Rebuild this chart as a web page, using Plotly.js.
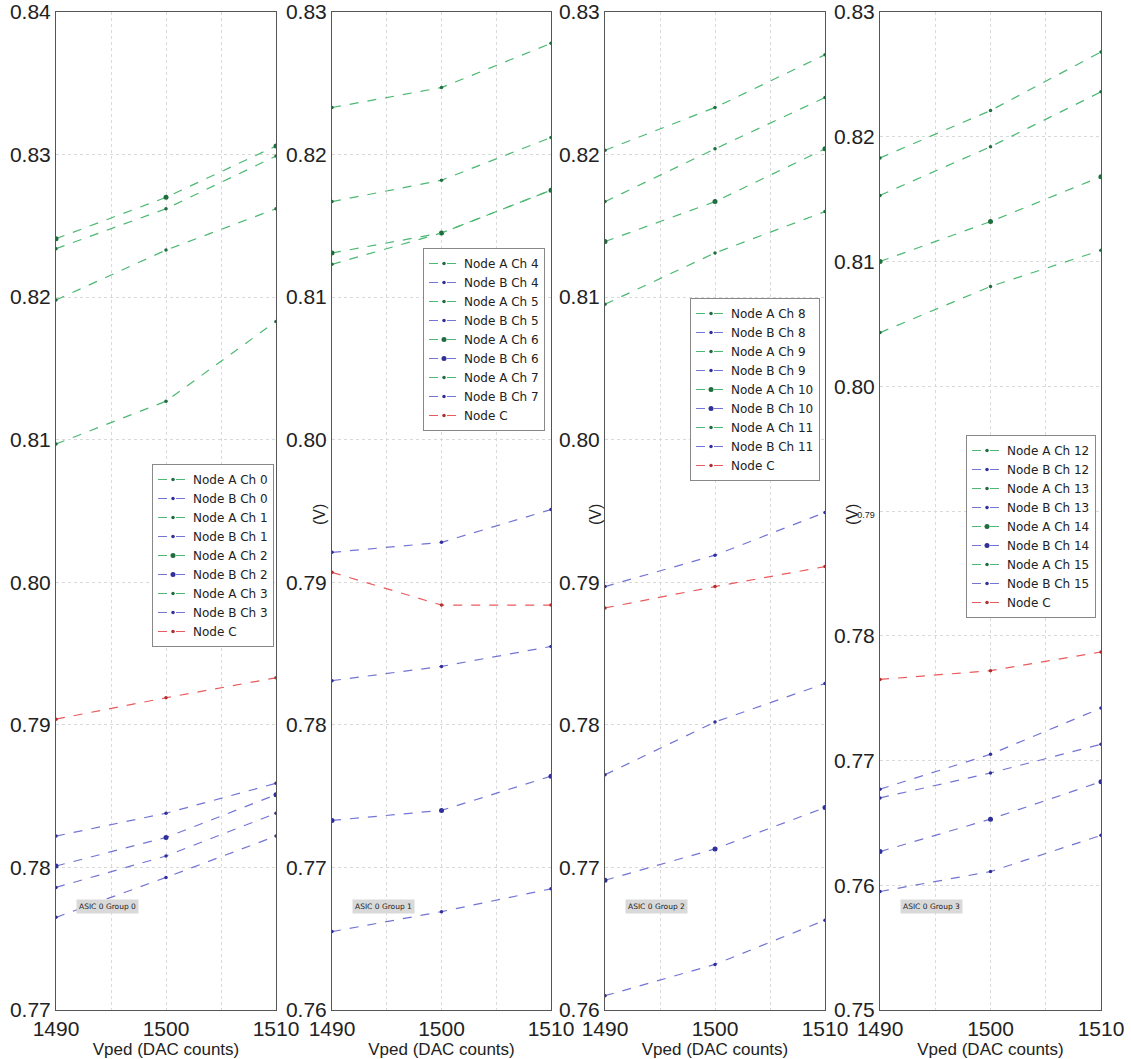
<!DOCTYPE html>
<html>
<head>
<meta charset="utf-8">
<script src="https://cdn.plot.ly/plotly-3.0.1.min.js"></script>
<style>html,body{margin:0;padding:0;background:#fff;}#chart{width:1131px;height:1059px;}</style>
</head>
<body>
<div id="chart"></div>
<script>
const xVped = [1490, 1500, 1510];
const xTickVals = [1490, 1495, 1500, 1505, 1510];
const xTickText = ['1490', '', '1500', '', '1510'];

// Group 0
const g0_A0 = [0.8234, 0.8262, 0.8299];
const g0_B0 = [0.7822, 0.7838, 0.7859];
const g0_A1 = [0.8198, 0.8233, 0.8262];
const g0_B1 = [0.7786, 0.7808, 0.7838];
const g0_A2 = [0.8241, 0.8270, 0.8306];
const g0_B2 = [0.7801, 0.7821, 0.7851];
const g0_A3 = [0.8097, 0.8127, 0.8183];
const g0_B3 = [0.7765, 0.7793, 0.7822];
const g0_C  = [0.7904, 0.7919, 0.7933];
// Group 1
const g1_A4 = [0.8233, 0.8247, 0.8278];
const g1_B4 = [0.7921, 0.7928, 0.7951];
const g1_A5 = [0.8167, 0.8182, 0.8212];
const g1_B5 = [0.7831, 0.7841, 0.7855];
const g1_A6 = [0.8131, 0.8145, 0.8175];
const g1_B6 = [0.7733, 0.7740, 0.7764];
const g1_A7 = [0.8123, 0.8145, 0.8175];
const g1_B7 = [0.7655, 0.7669, 0.7685];
const g1_C  = [0.7907, 0.7884, 0.7884];
// Group 2
const g2_A8  = [0.8203, 0.8233, 0.8270];
const g2_B8  = [0.7897, 0.7919, 0.7949];
const g2_A9  = [0.8167, 0.8204, 0.8240];
const g2_B9  = [0.7765, 0.7802, 0.7829];
const g2_A10 = [0.8139, 0.8167, 0.8204];
const g2_B10 = [0.7691, 0.7713, 0.7742];
const g2_A11 = [0.8095, 0.8131, 0.8160];
const g2_B11 = [0.7610, 0.7632, 0.7663];
const g2_C   = [0.7882, 0.7897, 0.7911];
// Group 3
const g3_A12 = [0.8183, 0.8221, 0.8268];
const g3_B12 = [0.7677, 0.7705, 0.7742];
const g3_A13 = [0.8153, 0.8192, 0.8236];
const g3_B13 = [0.7670, 0.7690, 0.7713];
const g3_A14 = [0.8100, 0.8132, 0.8168];
const g3_B14 = [0.7627, 0.7653, 0.7683];
const g3_A15 = [0.8043, 0.8080, 0.8109];
const g3_B15 = [0.7595, 0.7611, 0.7640];
const g3_C   = [0.7765, 0.7772, 0.7787];

const panels = [
  {series: [['Node A Ch 0', g0_A0], ['Node B Ch 0', g0_B0], ['Node A Ch 1', g0_A1], ['Node B Ch 1', g0_B1],
            ['Node A Ch 2', g0_A2], ['Node B Ch 2', g0_B2], ['Node A Ch 3', g0_A3], ['Node B Ch 3', g0_B3], ['Node C', g0_C]],
   yrange: [0.77, 0.84], group: 'ASIC 0 Group 0'},
  {series: [['Node A Ch 4', g1_A4], ['Node B Ch 4', g1_B4], ['Node A Ch 5', g1_A5], ['Node B Ch 5', g1_B5],
            ['Node A Ch 6', g1_A6], ['Node B Ch 6', g1_B6], ['Node A Ch 7', g1_A7], ['Node B Ch 7', g1_B7], ['Node C', g1_C]],
   yrange: [0.76, 0.83], group: 'ASIC 0 Group 1'},
  {series: [['Node A Ch 8', g2_A8], ['Node B Ch 8', g2_B8], ['Node A Ch 9', g2_A9], ['Node B Ch 9', g2_B9],
            ['Node A Ch 10', g2_A10], ['Node B Ch 10', g2_B10], ['Node A Ch 11', g2_A11], ['Node B Ch 11', g2_B11], ['Node C', g2_C]],
   yrange: [0.76, 0.83], group: 'ASIC 0 Group 2'},
  {series: [['Node A Ch 12', g3_A12], ['Node B Ch 12', g3_B12], ['Node A Ch 13', g3_A13], ['Node B Ch 13', g3_B13],
            ['Node A Ch 14', g3_A14], ['Node B Ch 14', g3_B14], ['Node A Ch 15', g3_A15], ['Node B Ch 15', g3_B15], ['Node C', g3_C]],
   yrange: [0.75, 0.83], group: 'ASIC 0 Group 3'}
];

const W = 1131, H = 1059;
const xPix = [[56, 276], [332, 551], [605, 825], [880, 1101]];
const yTop = 12, yBot = 1010;
const legendPos = [[152, 464], [423, 248], [690, 298], [966, 435]];
const vLabelX = [null, 319, 595, 852];

const traces = [];
const layout = {
  width: W, height: H,
  margin: {l: 0, r: 0, t: 0, b: 0},
  paper_bgcolor: '#ffffff', plot_bgcolor: '#ffffff',
  font: {family: 'Liberation Sans, Arial, sans-serif', color: '#222'},
  showlegend: true,
  annotations: []
};

panels.forEach((p, i) => {
  const ax = i === 0 ? '' : String(i + 1);
  const legName = i === 0 ? 'legend' : 'legend' + (i + 1);
  p.series.forEach(([name, vals], k) => {
    const isC = name === 'Node C';
    const isA = name.indexOf('Node A') === 0;
    const big = (k === 4 || k === 5);
    const lineColor = isC ? '#ea5a5c' : (isA ? '#4cb872' : '#7474d4');
    const mColor = isC ? '#b03030' : (isA ? '#1f6e3e' : '#30309a');
    traces.push({
      x: xVped, y: vals, name: name, type: 'scatter', mode: 'lines+markers',
      xaxis: 'x' + ax, yaxis: 'y' + ax, legend: legName,
      line: {color: lineColor, width: 1.2, dash: 'dash'},
      marker: {color: mColor, size: big ? 5 : 3.5}
    });
  });
  const yDomain = [1 - yBot / H, 1 - yTop / H];
  let yTickVals = [], yTickText = [];
  const nT = Math.round((p.yrange[1] - p.yrange[0]) / 0.01);
  for (let t = 0; t <= nT; t++) {
    const v = +(p.yrange[0] + t * 0.01).toFixed(2);
    yTickVals.push(v);
    if (i === 3 && Math.abs(v - 0.79) < 1e-9) {
      yTickText.push('<span style="font-size:9px">0.79</span>');
    } else {
      yTickText.push(v.toFixed(2));
    }
  }
  layout['xaxis' + ax] = {
    domain: [xPix[i][0] / W, xPix[i][1] / W],
    anchor: 'y' + ax,
    range: [1490, 1510],
    tickvals: xTickVals, ticktext: xTickText,
    showgrid: true, gridcolor: '#d9d9d9', griddash: 'dot', gridwidth: 1,
    showline: true, mirror: true, linecolor: '#555', linewidth: 1,
    zeroline: false, ticks: '',
    tickfont: {size: 21, color: '#222'},
    title: {text: 'Vped (DAC counts)', font: {size: 17, color: '#222'}, standoff: 2},
    automargin: false, fixedrange: true
  };
  layout['yaxis' + ax] = {
    domain: yDomain,
    anchor: 'x' + ax,
    range: p.yrange,
    tickvals: yTickVals, ticktext: yTickText,
    showgrid: true, gridcolor: '#d9d9d9', griddash: 'dot', gridwidth: 1,
    showline: true, mirror: true, linecolor: '#555', linewidth: 1,
    zeroline: false, ticks: '',
    tickfont: {size: 21, color: '#222'},
    automargin: false, fixedrange: true
  };
  layout[legName] = {
    x: legendPos[i][0] / W, y: 1 - legendPos[i][1] / H,
    xanchor: 'left', yanchor: 'top',
    bgcolor: '#ffffff', bordercolor: '#888', borderwidth: 1,
    font: {family: 'DejaVu Sans, sans-serif', size: 12, color: '#222'},
    itemwidth: 30, tracegroupgap: 0
  };
  layout.annotations.push({
    xref: 'x' + ax, yref: 'paper',
    x: 1491.8, y: 1 - 906 / H, xanchor: 'left', yanchor: 'middle',
    text: p.group, showarrow: false,
    font: {family: 'DejaVu Sans, sans-serif', size: 7.5, color: '#222'},
    bgcolor: '#d9d9d9', borderpad: 2
  });
  if (vLabelX[i] !== null) {
    layout.annotations.push({
      xref: 'paper', yref: 'paper',
      x: vLabelX[i] / W, y: 1 - 515 / H, xanchor: 'center', yanchor: 'middle',
      text: '(V)', textangle: -90, showarrow: false,
      font: {size: 16, color: '#222'}
    });
  }
});

Plotly.newPlot('chart', traces, layout, {displayModeBar: false, staticPlot: true});
</script>
</body>
</html>
